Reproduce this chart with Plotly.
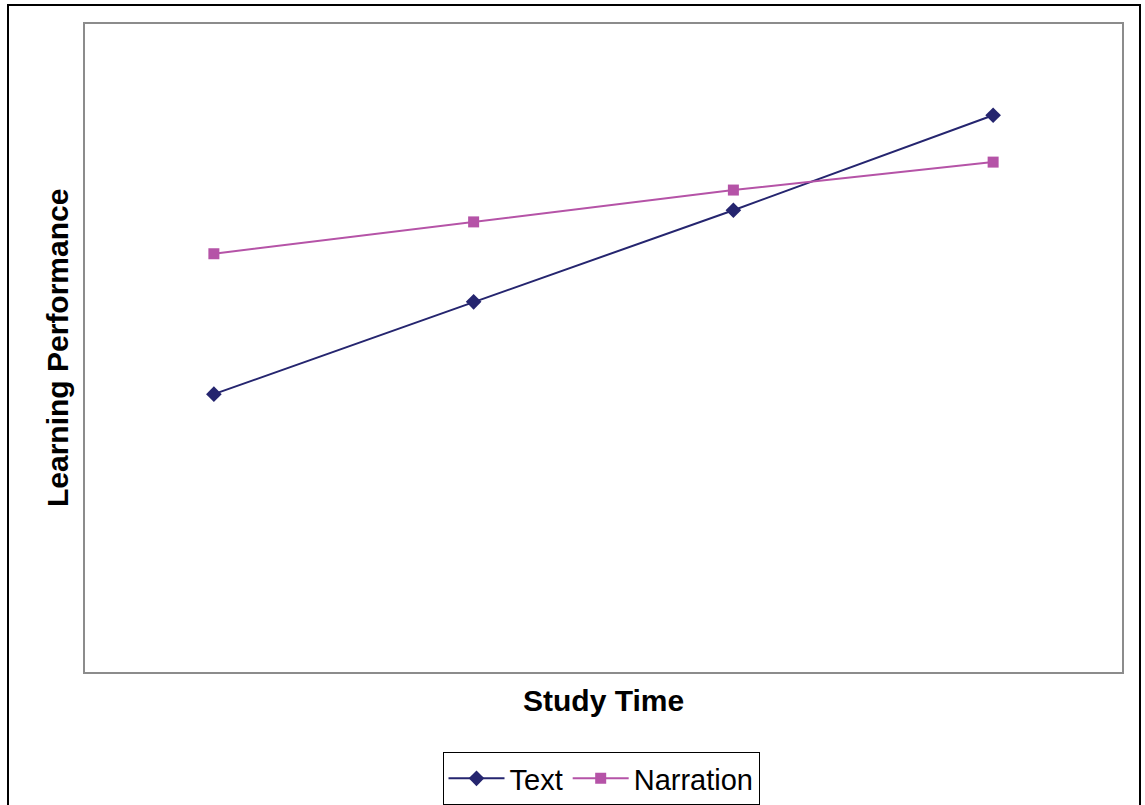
import plotly.graph_objects as go

# Study time levels (unlabelled categories) and performance scores
study_levels = ["T1", "T2", "T3", "T4"]
text_scores = [42.9, 57.1, 71.2, 85.8]
narration_scores = [64.5, 69.4, 74.3, 78.6]

FONT = "Liberation Sans, Arial, sans-serif"
TEXT_COLOR = "#25256F"
NARR_COLOR = "#B553A7"

W, H = 1145, 805
L, R, T, B = 84, 22, 23, 132
pw, ph = W - L - R, H - T - B


def px_x(x):
    return (x - L) / pw


def px_y(y):
    return (H - B - y) / ph


fig = go.Figure()
fig.add_trace(go.Scatter(
    x=study_levels, y=text_scores, name="Text", mode="lines+markers",
    line=dict(color=TEXT_COLOR, width=2),
    marker=dict(symbol="diamond", size=12, color=TEXT_COLOR),
))
fig.add_trace(go.Scatter(
    x=study_levels, y=narration_scores, name="Narration", mode="lines+markers",
    line=dict(color=NARR_COLOR, width=2),
    marker=dict(symbol="square", size=11, color=NARR_COLOR),
))

fig.update_layout(
    width=W, height=H,
    margin=dict(l=L, r=R, t=T, b=B, autoexpand=False),
    paper_bgcolor="white", plot_bgcolor="white",
    font=dict(family=FONT, color="black"),
    showlegend=True,
    legend=dict(
        orientation="h", x=px_x(601), xanchor="center",
        y=px_y(752), yanchor="top",
        font=dict(size=29, family=FONT, color="black"),
        bordercolor="black", borderwidth=1, bgcolor="white",
        itemwidth=56,
    ),
    xaxis=dict(
        type="category", range=[-0.5, 3.5],
        showticklabels=False, ticks="", showgrid=False, zeroline=False,
        showline=False,
    ),
    yaxis=dict(
        range=[0, 100], showticklabels=False, ticks="", showgrid=False,
        zeroline=False, showline=False,
    ),
    shapes=[
        # plot area frame
        dict(type="rect", xref="paper", yref="paper", x0=0, x1=1, y0=0, y1=1,
             line=dict(color="#8C8C8C", width=2), layer="below"),
        # outer chart frame
        dict(type="rect", xref="paper", yref="paper",
             x0=px_x(8), x1=px_x(1140), y0=px_y(820), y1=px_y(5),
             line=dict(color="black", width=2), layer="below"),
    ],
    annotations=[
        dict(text="<b>Study Time</b>", xref="paper", yref="paper",
             x=px_x(603), y=px_y(700), xanchor="center", yanchor="middle",
             showarrow=False, font=dict(size=30, family=FONT, color="black")),
        dict(text="<b>Learning Performance</b>", xref="paper", yref="paper",
             x=px_x(57), y=px_y(348), xanchor="center", yanchor="middle",
             textangle=-90, showarrow=False,
             font=dict(size=30, family=FONT, color="black")),
    ],
)

fig.write_html("out.html")
